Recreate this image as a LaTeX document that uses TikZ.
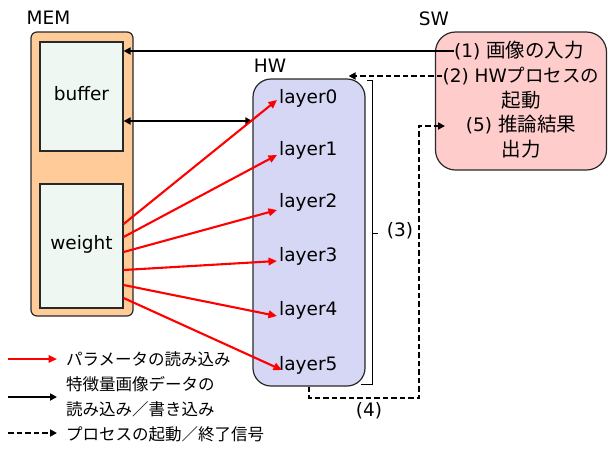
\documentclass[tikz,border=0pt]{standalone}
\usepackage{fontspec}
\setmainfont{DejaVu Sans}
\newfontfamily\jp{Noto Sans CJK JP}
\usetikzlibrary{arrows.meta,calc}
\definecolor{memfill}{RGB}{255,204,153}
\definecolor{buffill}{RGB}{238,247,242}
\definecolor{hwfill}{RGB}{214,214,245}
\definecolor{swfill}{RGB}{255,204,204}
\definecolor{edge}{RGB}{40,40,40}
\tikzset{
  lat/.style={font=\fontsize{18.5}{22}\selectfont, inner sep=0pt},
  swtxt/.style={font=\fontsize{18.5}{22}\selectfont, inner sep=0pt},
  legtxt/.style={font=\jp\fontsize{16.5}{25}\selectfont, inner sep=0pt, anchor=west, align=left},
  box/.style={draw=edge, line width=1.2pt},
  layertxt/.style={lat, anchor=base west},
  blackarrow/.style={line width=2.1pt, -{Triangle[length=7pt,width=7pt]}},
  dblarrow/.style={line width=2.1pt, {Triangle[length=7pt,width=7pt]}-{Triangle[length=7pt,width=7pt]}},
  redarrow/.style={red, line width=2.1pt, -{Triangle[length=8.5pt,width=7.5pt]}},
  dasharrow/.style={line width=2.1pt, dash pattern=on 5.5pt off 3pt, -{Triangle[length=7pt,width=7pt]}},
}
\newcommand{\swjp}[1]{{\jp\fontsize{19.5}{22}\selectfont #1}}
\begin{document}
\begin{tikzpicture}[x=1pt,y=-1pt]
\useasboundingbox (0,0) rectangle (608,448);
% MEM
\node[box, fill=memfill, rounded corners=6pt, minimum width=102pt, minimum height=284pt] (mem) at (82,174) {};
\node[box, fill=buffill, minimum width=83pt, minimum height=109pt] (buffer) at (81.5,96.5) {};
\node[lat] (buftxt) at (81.5,94) {buffer};
\node[box, fill=buffill, minimum width=83pt, minimum height=124pt] (weight) at (81.5,246) {};
\node[lat] (wtxt) at (81.5,244) {weight};
\node[lat] (memlbl) at (48.5,18) {MEM};
% HW
\node[box, fill=hwfill, rounded corners=18pt, minimum width=112pt, minimum height=307pt] (hw) at (309,232.5) {};
\node[lat] (hwlbl) at (270,66) {HW};
\node[layertxt] (l0) at (279,103) {layer0};
\node[layertxt] (l1) at (279,155) {layer1};
\node[layertxt] (l2) at (279,207) {layer2};
\node[layertxt] (l3) at (279,261) {layer3};
\node[layertxt] (l4) at (279,315) {layer4};
\node[layertxt] (l5) at (279,370) {layer5};
% SW
\node[box, fill=swfill, rounded corners=20pt, minimum width=171pt, minimum height=138pt] (sw) at (521,101) {};
\node[lat] (swlbl) at (434,19) {SW};
\node[swtxt] (sw1) at (519,51) {(1) \swjp{画像の入力}};
\node[swtxt] (sw2) at (521,76) {(2) HW{\jp プロセスの}};
\node[swtxt] (sw3) at (521,100) {\swjp{起動}};
\node[swtxt] (sw4) at (521,125) {(5) \swjp{推論結果}};
\node[swtxt] (sw5) at (521,149) {\swjp{出力}};
% bracket (3)
\draw[line width=1pt] (367,80) -- (372,80) -- (372,384) -- (361,384);
\draw[line width=1pt] (372,233) -- (378,233);
\node[lat] (n3) at (400,231) {(3)};
\node[lat] (n4) at (369,411) {(4)};
% arrows
\draw[blackarrow] (sw1.west) -- (sw1.west -| buffer.east);
\draw[dblarrow] ([yshift=-24.5pt]buffer.east) -- ([yshift=-24.5pt]buffer.east -| hw.west);
\coordinate (hwtip) at ([xshift=-17pt]hw.north east);
\draw[dasharrow] (sw2.west) -- (sw2.west -| hwtip);
\coordinate (c4) at (419,398);
\coordinate (sw4tip) at (445,126);
\draw[dasharrow] (hw.south) |- (c4) |- (sw4tip);
\draw[redarrow] ([yshift=22pt]weight.east) -- ([xshift=-2pt,yshift=3pt]l0.base west);
\draw[redarrow] ([yshift=9pt]weight.east) -- ([xshift=-2pt]l1.base west);
\draw[redarrow] ([yshift=-6pt]weight.east) -- ([xshift=-2pt,yshift=-3pt]l2.base west);
\draw[redarrow] ([yshift=-24pt]weight.east) -- ([xshift=-2pt]l3.base west);
\draw[redarrow] ([yshift=-39pt]weight.east) -- ([xshift=-2pt,yshift=-1pt]l4.base west);
\draw[redarrow] ([yshift=-52pt]weight.east) -- ([xshift=3pt]l5.base west);
% legend
\node[legtxt] (leg1) at (66,359) {パラメータの読み込み};
\node[legtxt] (leg2) at (66,397) {特徴量画像データの\\読み込み／書き込み};
\node[legtxt] (leg3) at (66,434) {プロセスの起動／終了信号};
\coordinate (a1) at (8,359);
\coordinate (a2) at (8,397);
\coordinate (a3) at (8,433);
\draw[redarrow] (a1) -- ([xshift=-9pt]leg1.west |- a1);
\draw[blackarrow] (a2) -- ([xshift=-9pt]leg2.west |- a2);
\draw[dasharrow] (a3) -- ([xshift=-9pt]leg3.west |- a3);
\end{tikzpicture}
\end{document}
